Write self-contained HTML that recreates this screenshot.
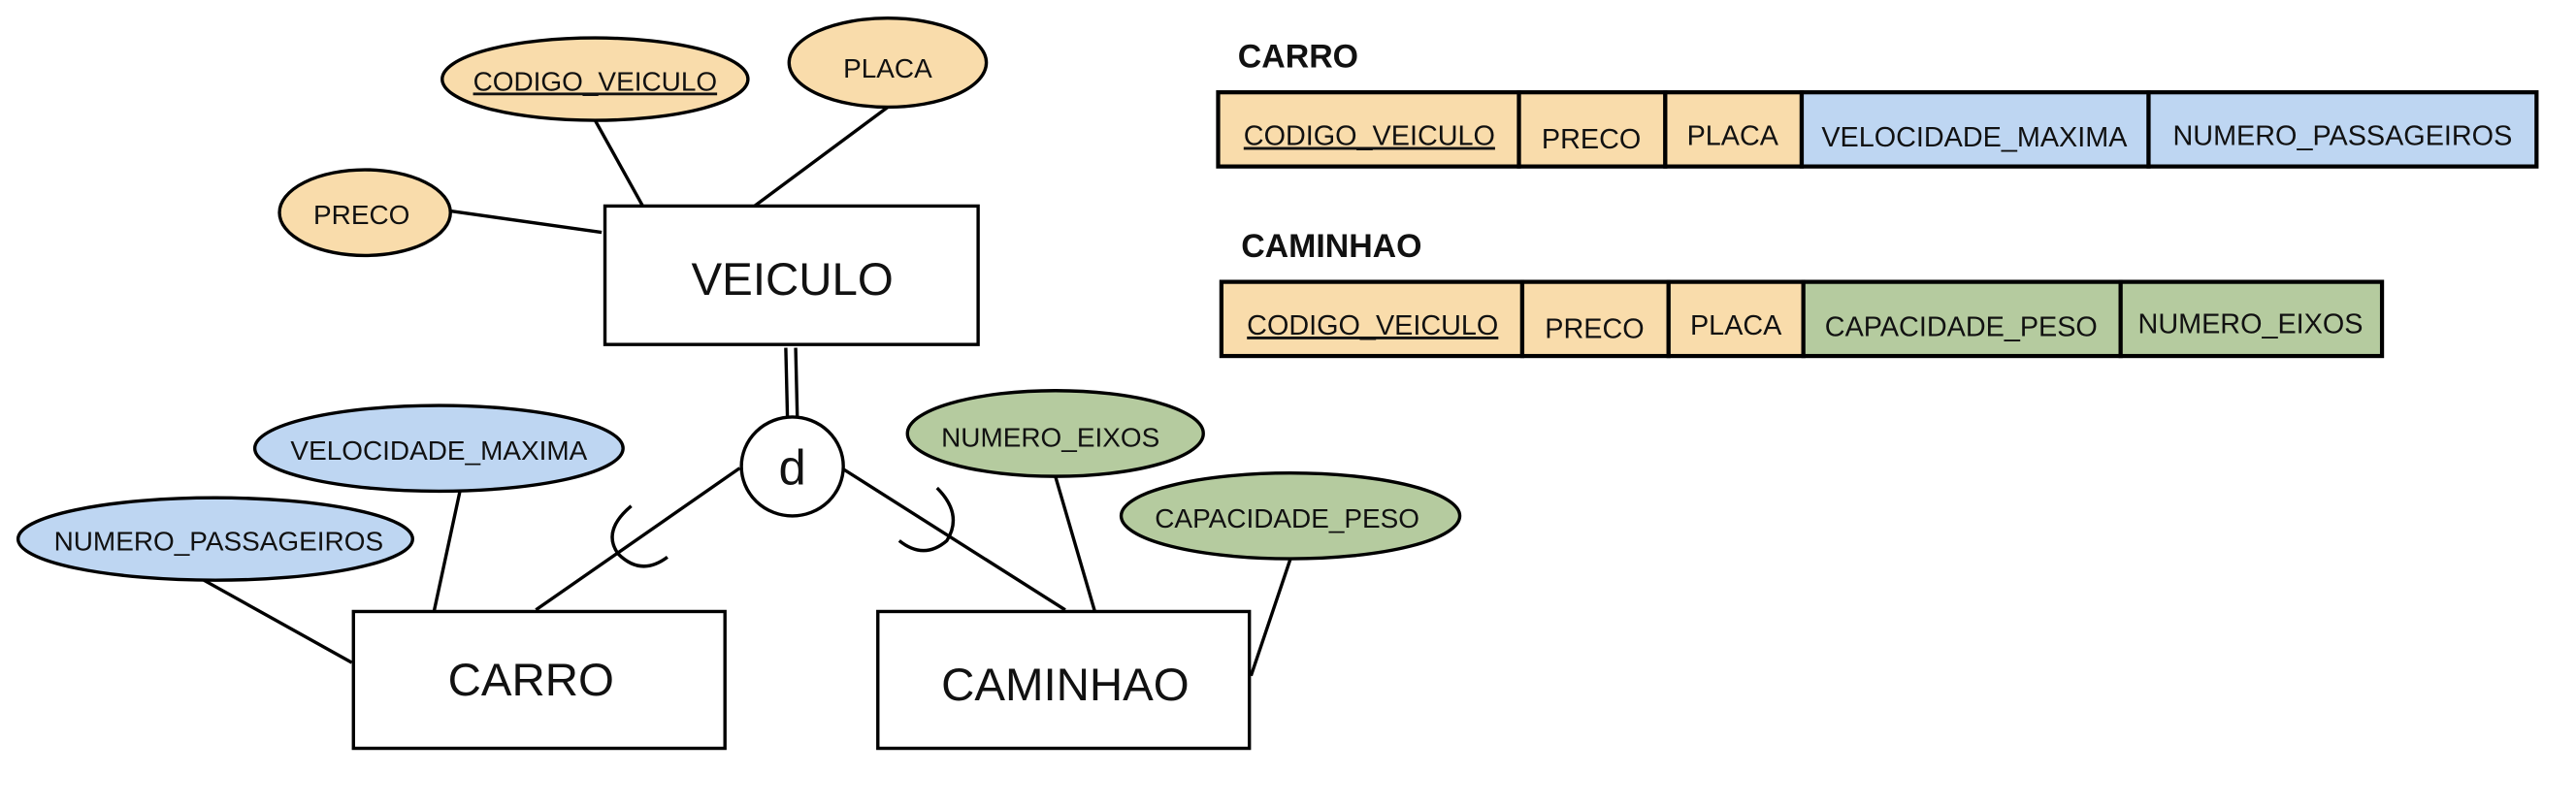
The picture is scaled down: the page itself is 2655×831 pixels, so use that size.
<!DOCTYPE html>
<html><head><meta charset="utf-8"><style>
html,body{margin:0;padding:0;background:#fff;}
svg{display:block;}
text{font-family:"Liberation Sans",Arial,sans-serif;fill:#111;}
</style></head><body>
<svg width="2655" height="831" viewBox="0 0 1567 489" preserveAspectRatio="none" xmlns="http://www.w3.org/2000/svg">
<g stroke="#000" stroke-width="2" fill="none">
<line x1="362" y1="73" x2="391" y2="125"/>
<line x1="540" y1="65" x2="459" y2="125"/>
<line x1="274" y1="128" x2="366" y2="141"/>
<line x1="478" y1="211" x2="479" y2="253"/>
<line x1="484" y1="211" x2="485" y2="253"/>
<line x1="450" y1="284" x2="326" y2="370"/>
<line x1="512" y1="284" x2="648" y2="370"/>
<path d="M384,307 Q366,322 376,336 Q390,350 406,338"/>
<path d="M570,296 Q586,312 576,328 Q562,340 547,328"/>
<line x1="280" y1="297" x2="264" y2="371"/>
<line x1="124" y1="352" x2="214" y2="402"/>
<line x1="642" y1="289" x2="666" y2="371"/>
<line x1="785" y1="339" x2="761" y2="410"/>
</g>
<g stroke="#000" stroke-width="2">
<ellipse cx="362" cy="48" rx="93" ry="25" fill="#f9dcab"/>
<ellipse cx="540" cy="38" rx="60" ry="27" fill="#f9dcab"/>
<ellipse cx="222" cy="129" rx="52" ry="26" fill="#f9dcab"/>
<ellipse cx="267" cy="272" rx="112" ry="26" fill="#bed6f2"/>
<ellipse cx="131" cy="327" rx="120" ry="25" fill="#bed6f2"/>
<ellipse cx="642" cy="263" rx="90" ry="26" fill="#b5cb9f"/>
<ellipse cx="785" cy="313" rx="103" ry="26" fill="#b5cb9f"/>
<rect x="368" y="125" width="227" height="84" fill="#fff"/>
<rect x="215" y="371" width="226" height="83" fill="#fff"/>
<rect x="534" y="371" width="226" height="83" fill="#fff"/>
<ellipse cx="482" cy="283" rx="31" ry="30" fill="#fff"/>
</g>
<g font-size="16.5" text-anchor="middle">
<text x="362" y="55" text-decoration="underline">CODIGO_VEICULO</text>
<text x="540" y="47">PLACA</text>
<text x="220" y="136">PRECO</text>
<text x="267" y="279">VELOCIDADE_MAXIMA</text>
<text x="133" y="334">NUMERO_PASSAGEIROS</text>
<text x="639" y="271">NUMERO_EIXOS</text>
<text x="783" y="320">CAPACIDADE_PESO</text>
</g>
<g font-size="28" text-anchor="middle">
<text x="482" y="179">VEICULO</text>
<text x="323" y="422">CARRO</text>
<text x="648" y="425">CAMINHAO</text>
<text x="482" y="294" font-size="30">d</text>
</g>
<g font-size="20" font-weight="bold">
<text x="753" y="41">CARRO</text>
<text x="755" y="156">CAMINHAO</text>
</g>
<g stroke="#000" stroke-width="2.5">
<rect x="741" y="56" width="183" height="45" fill="#f9dcab"/>
<rect x="924" y="56" width="89" height="45" fill="#f9dcab"/>
<rect x="1013" y="56" width="83" height="45" fill="#f9dcab"/>
<rect x="1096" y="56" width="211" height="45" fill="#bed6f2"/>
<rect x="1307" y="56" width="236" height="45" fill="#bed6f2"/>
<rect x="743" y="171" width="183" height="45" fill="#f9dcab"/>
<rect x="926" y="171" width="89" height="45" fill="#f9dcab"/>
<rect x="1015" y="171" width="82" height="45" fill="#f9dcab"/>
<rect x="1097" y="171" width="193" height="45" fill="#b5cb9f"/>
<rect x="1290" y="171" width="159" height="45" fill="#b5cb9f"/>
</g>
<g font-size="17" text-anchor="middle">
<text x="833" y="88" text-decoration="underline">CODIGO_VEICULO</text>
<text x="968" y="90">PRECO</text>
<text x="1054" y="88">PLACA</text>
<text x="1201" y="89">VELOCIDADE_MAXIMA</text>
<text x="1425" y="88">NUMERO_PASSAGEIROS</text>
<text x="835" y="203" text-decoration="underline">CODIGO_VEICULO</text>
<text x="970" y="205">PRECO</text>
<text x="1056" y="203">PLACA</text>
<text x="1193" y="204">CAPACIDADE_PESO</text>
<text x="1369" y="202">NUMERO_EIXOS</text>
</g>
</svg>
</body></html>
